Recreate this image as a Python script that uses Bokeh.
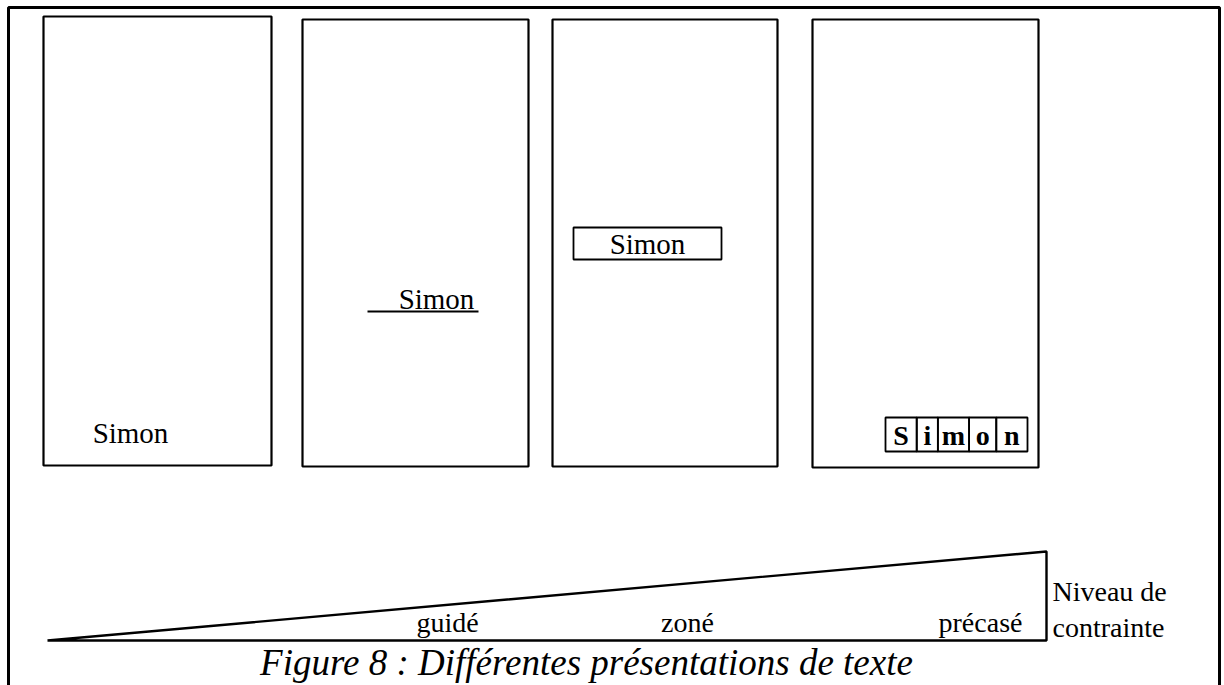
from bokeh.plotting import figure
from bokeh.models import Range1d
from bokeh.embed import file_html
from bokeh.resources import INLINE
from bokeh.core.properties import value

# ---- content ----
word = "Simon"
letters = list(word)
constraint_labels = ["guidé", "zoné", "précasé"]
axis_label_lines = ["Niveau de", "contrainte"]
caption = "Figure 8 : Différentes présentations de texte"

# ---- layout (screen pixels) ----
W, H = 1224, 685
FONT = "Liberation Serif"

p = figure(width=W, height=H, x_range=Range1d(0, W), y_range=Range1d(H, 0),
           output_backend="svg", toolbar_location=None, min_border=0)
p.axis.visible = False
p.grid.visible = False
p.outline_line_color = None
p.background_fill_color = "white"

# outer frame (bottom edge beyond the visible area)
p.line(x=[8, 8, 1219, 1219], y=[720, 7, 7, 720], line_color="black", line_width=3)

# four panels
pl = [43, 302, 552, 812]
pr = [271, 528, 777, 1038]
pt = [16, 19, 19, 19]
pb = [465, 466, 466, 467]
p.quad(left=pl, right=pr, top=pt, bottom=pb, fill_color=None, line_color="black", line_width=2.2)

tkw = dict(text_font=value(FONT), text_color="black", text_align="center", text_baseline="middle")

# panel 1: free text
p.text(x=[130], y=[432], text=[word], text_font_size="29px", **tkw)

# panel 2: guided (underline)
p.text(x=[436], y=[298], text=[word], text_font_size="29px", **tkw)
p.line(x=[367, 478], y=[311, 311], line_color="black", line_width=2.2)

# panel 3: zone (box)
p.quad(left=[573], right=[721], top=[227], bottom=[259], fill_color=None, line_color="black", line_width=1.8)
p.text(x=[647], y=[243], text=[word], text_font_size="29px", **tkw)

# panel 4: pre-boxed letters
cell_w = [31, 21, 31, 27, 31]
x0 = 885
lefts, rights, centers = [], [], []
for w in cell_w:
    lefts.append(x0); rights.append(x0 + w); centers.append(x0 + w / 2); x0 += w
scale = (1027 - 885) / (x0 - 885)
lefts = [885 + (l - 885) * scale for l in lefts]
rights = [885 + (r - 885) * scale for r in rights]
centers = [885 + (c - 885) * scale for c in centers]
p.quad(left=lefts, right=rights, top=[417] * 5, bottom=[451] * 5, fill_color=None, line_color="black", line_width=1.8)
p.text(x=centers, y=[435] * 5, text=letters, text_font_size="28px", text_font_style="bold", **tkw)

# constraint wedge
p.line(x=[47, 1046, 1046, 47], y=[640, 551, 640, 640], line_color="black", line_width=2.4)

# constraint labels
p.text(x=[447, 687, 980], y=[622, 622, 622], text=constraint_labels, text_font_size="28px", **tkw)
p.text(x=[1052, 1052], y=[591, 627], text=axis_label_lines, text_font_size="28px",
       text_font=value(FONT), text_color="black", text_align="left", text_baseline="middle")

# caption
p.text(x=[586], y=[662], text=[caption], text_font_size="37px", text_font_style="italic", **tkw)

open("out.html", "w").write(file_html(p, INLINE))
